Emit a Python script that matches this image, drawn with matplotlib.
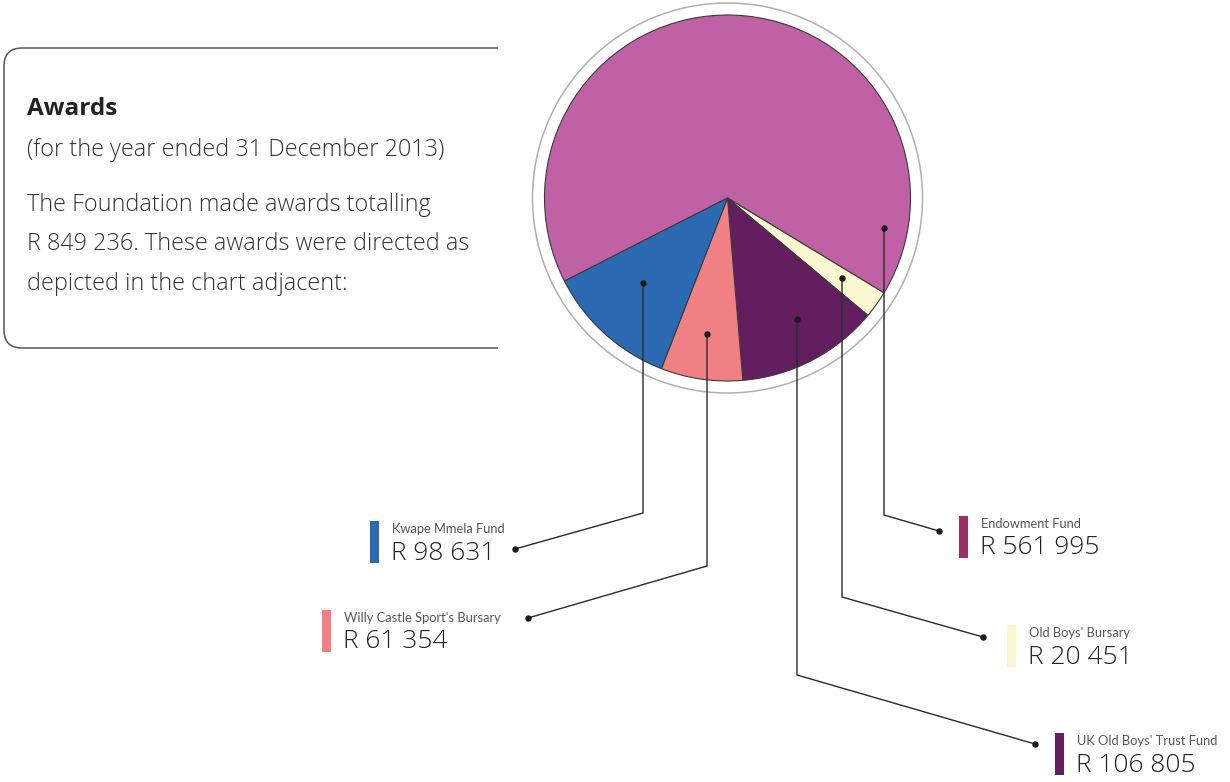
import matplotlib
matplotlib.use('Agg')
import matplotlib.pyplot as plt
from matplotlib.patches import Circle, Rectangle, PathPatch
from matplotlib.path import Path

W, H = 1230, 782

# ---- data ----
categories = ["Endowment Fund", "Old Boys' Bursary", "UK Old Boys' Trust Fund",
              "Willy Castle Sport's Bursary", "Kwape Mmela Fund"]
values = [561995, 20451, 106805, 61354, 98631]
value_labels = ["R 561 995", "R 20 451", "R 106 805", "R 61 354", "R 98 631"]
pie_colors = ['#C061A5', '#FAF8D0', '#621E5F', '#F08083', '#2B6AB3']
bar_colors = ['#9C2F68', '#FAF8D0', '#621E5F', '#F08083', '#2B6AB3']
title = "Awards"
subtitle = "(for the year ended 31 December 2013)"
body = ["The Foundation made awards totalling",
        "R 849 236. These awards were directed as",
        "depicted in the chart adjacent:"]

# ---- layout (pixel coords, y down) ----
pie_center = (727.5, 198)
pie_radius = 183
ring_radius = 195
inner_dots = [(884, 228), (842, 278), (797, 319), (707, 334), (643, 283)]
elbow_y = [515, 597, 675, 566, 513]
outer_dots = [(939, 531), (983, 637), (1035, 744), (528, 618), (515, 549)]
bar_pos = [(959, 516), (1007, 625), (1055, 733), (322, 610), (370, 521)]

FONT = ['Lato', 'DejaVu Sans']
BODY_FONT = ['Open Sans', 'Lato', 'DejaVu Sans']
plt.rcParams['font.family'] = FONT

fig = plt.figure(figsize=(W / 100, H / 100), dpi=100)
ax = fig.add_axes([0, 0, 1, 1])

def Y(y):
    return H - y

wedges, _ = ax.pie(values, colors=pie_colors, startangle=207, counterclock=False,
                   center=(pie_center[0], Y(pie_center[1])), radius=pie_radius,
                   wedgeprops=dict(edgecolor='#3a3a3a', linewidth=0.8))
ax.add_patch(Circle((pie_center[0], Y(pie_center[1])), ring_radius, fill=False,
                    edgecolor='#b0b0b0', linewidth=1.1))

for i in range(len(values)):
    ix, iy = inner_dots[i]
    ox, oy = outer_dots[i]
    ax.plot([ix, ix, ox], [Y(iy), Y(elbow_y[i]), Y(oy)], color='#2a2a2a',
            linewidth=1.0, solid_joinstyle='miter')
    ax.plot([ix, ox], [Y(iy), Y(oy)], linestyle='none', marker='o',
            markersize=3.6, color='#1a1a1a')
    bx, by = bar_pos[i]
    ax.add_patch(Rectangle((bx, Y(by + 42)), 9, 42, facecolor=bar_colors[i],
                           edgecolor='none'))
    ax.text(bx + 22, Y(by + 8), categories[i], fontsize=9.3, color='#555555',
            va='center', ha='left')
    ax.text(bx + 21, Y(by + 32), value_labels[i], fontsize=19, color='#222222',
            va='center', ha='left', family=BODY_FONT, fontweight='light')

r = 18
x0, x1, y0, y1 = 4, 498, 48, 348
verts = [(x1, Y(y0)), (x0 + r, Y(y0)), (x0, Y(y0)), (x0, Y(y0 + r)),
         (x0, Y(y1 - r)), (x0, Y(y1)), (x0 + r, Y(y1)), (x1, Y(y1))]
codes = [Path.MOVETO, Path.LINETO, Path.CURVE3, Path.CURVE3,
         Path.LINETO, Path.CURVE3, Path.CURVE3, Path.LINETO]
ax.add_patch(PathPatch(Path(verts, codes), fill=False, edgecolor='#555555',
                       linewidth=1.1))

ax.text(27, Y(109), title, fontsize=17.5, fontweight='bold', color='#222222',
        va='center', ha='left', family=BODY_FONT)
ax.text(27, Y(150), subtitle, fontsize=16.8, color='#333333', va='center', ha='left',
        family=BODY_FONT, fontweight='light')
for k, line in enumerate(body):
    ax.text(27, Y(205 + 39.5 * k), line, fontsize=16.8, color='#333333',
            va='center', ha='left', family=BODY_FONT, fontweight='light')

ax.set_xlim(0, W)
ax.set_ylim(0, H)
ax.set_aspect('auto')
ax.axis('off')
fig.savefig('out.png', dpi=100)
